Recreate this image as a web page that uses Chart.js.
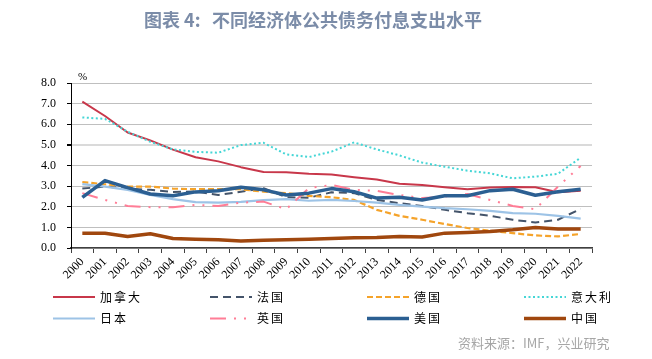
<!DOCTYPE html>
<html>
<head>
<meta charset="utf-8">
<script src="https://cdn.jsdelivr.net/npm/chart.js@4.4.0/dist/chart.umd.min.js"></script>
<style>
body { margin: 0; background: #fff; }
</style>
</head>
<body>
<canvas id="debtChart" width="652" height="359"></canvas>
<script>
const chartLabel = '图表 4:'
const chartTitle = '不同经济体公共债务付息支出水平'
const sourceNote = '资料来源：IMF，兴业研究'
const years = ['2000', '2001', '2002', '2003', '2004', '2005', '2006', '2007', '2008', '2009', '2010', '2011',
    '2012', '2013', '2014', '2015', '2016', '2017', '2018', '2019', '2020', '2021', '2022']
const yTicks = [0, 1, 2, 3, 4, 5, 6, 7, 8]

// % of GDP
const canada = [7.1, 6.4, 5.6, 5.22, 4.77, 4.4, 4.2, 3.92, 3.68, 3.67, 3.6, 3.56, 3.43, 3.32, 3.12, 3.06, 2.95, 2.85, 2.93, 2.96, 2.95, 2.7, 2.78]
const france = [2.88, 2.98, 2.88, 2.82, 2.72, 2.74, 2.57, 2.73, 2.9, 2.46, 2.44, 2.7, 2.66, 2.33, 2.17, 2.04, 1.85, 1.69, 1.56, 1.37, 1.24, 1.37, 1.9]
const germany = [3.2, 3.09, 2.98, 2.98, 2.88, 2.85, 2.85, 2.85, 2.73, 2.66, 2.53, 2.46, 2.33, 1.85, 1.56, 1.37, 1.16, 0.97, 0.84, 0.72, 0.61, 0.56, 0.68]
const italy = [6.33, 6.26, 5.64, 5.15, 4.78, 4.66, 4.62, 4.99, 5.1, 4.54, 4.41, 4.67, 5.12, 4.78, 4.49, 4.14, 3.94, 3.75, 3.62, 3.38, 3.46, 3.6, 4.38]
const japan = [3.1, 2.98, 2.82, 2.57, 2.37, 2.22, 2.2, 2.24, 2.32, 2.37, 2.29, 2.33, 2.28, 2.2, 2.09, 2.01, 1.93, 1.88, 1.8, 1.69, 1.66, 1.56, 1.42]
const uk = [2.66, 2.33, 2.04, 1.98, 1.98, 2.09, 2.04, 2.2, 2.25, 1.88, 2.9, 3.06, 2.82, 2.77, 2.57, 2.42, 2.49, 2.62, 2.33, 2.04, 1.88, 2.98, 3.98]
const usa = [2.45, 3.27, 2.93, 2.62, 2.53, 2.72, 2.78, 2.95, 2.82, 2.57, 2.66, 2.88, 2.73, 2.42, 2.46, 2.33, 2.53, 2.53, 2.78, 2.85, 2.56, 2.73, 2.85]
const china = [0.72, 0.72, 0.56, 0.69, 0.46, 0.42, 0.4, 0.34, 0.37, 0.4, 0.43, 0.46, 0.5, 0.51, 0.56, 0.53, 0.72, 0.75, 0.8, 0.88, 0.99, 0.92, 0.92]

const seriesNames = ['加拿大', '法国', '德国', '意大利', '日本', '英国', '美国', '中国']
const seriesData = [canada, france, germany, italy, japan, uk, usa, china]
const seriesColors = ['#c8374a', '#44546a', '#f5a32a', '#45d6d6', '#9dc3e6', '#ff7d96', '#2b5f92', '#a0470e']
const seriesWidths = [2, 2, 2.2, 2, 2.2, 2, 3.5, 3.5]
const seriesDashes = [[], [8, 5], [6, 3], [2, 2.5], [], [16, 8, 2, 8, 2, 8], [], []]

// title, % mark, legend and source drawn on the canvas
const extras = {
    id: 'extras',
    afterDraw(chart) {
        const ctx = chart.ctx
        ctx.save()
        ctx.textBaseline = 'middle'
        ctx.font = 'bold 18px "Noto Sans CJK SC"'
        ctx.fillStyle = '#7b8ca8'
        ctx.fillText(chartLabel, 144, 20)
        ctx.fillText(chartTitle, 212, 20)

        ctx.font = '11px "Liberation Serif"'
        ctx.fillStyle = '#000'
        ctx.fillText('%', 78, 77)

        chart.data.datasets.forEach((ds, i) => {
            const x = 53 + (i % 4) * 157
            const y = 297 + Math.floor(i / 4) * 21.5
            ctx.strokeStyle = ds.borderColor
            ctx.lineWidth = ds.borderWidth
            ctx.setLineDash(ds.borderDash)
            ctx.lineCap = 'butt'
            ctx.beginPath()
            ctx.moveTo(x, y)
            ctx.lineTo(x + 42, y)
            ctx.stroke()
            ctx.setLineDash([])
            ctx.font = '12px "Noto Sans CJK SC"'
            ctx.letterSpacing = '2px'
            ctx.fillStyle = '#000'
            ctx.fillText(ds.label, x + 47, y)
            ctx.letterSpacing = '0px'
        })

        ctx.font = '13px "Noto Sans CJK SC"'
        ctx.fillStyle = '#a6a6a6'
        ctx.fillText(sourceNote, 458, 343)
        ctx.restore()
    }
}

const datasets = seriesNames.map((name, i) => ({
    label: name,
    data: seriesData[i],
    borderColor: seriesColors[i],
    backgroundColor: seriesColors[i],
    borderWidth: seriesWidths[i],
    borderDash: seriesDashes[i],
    borderJoinStyle: 'round',
    pointRadius: 0,
    tension: 0,
    fill: false,
    order: seriesNames.length - i
}))

new Chart(document.getElementById('debtChart'), {
    type: 'line',
    data: { labels: years, datasets: datasets },
    options: {
        responsive: false,
        animation: false,
        layout: { padding: { top: 83, right: 60, left: 0, bottom: 0 } },
        plugins: {
            legend: { display: false },
            tooltip: { enabled: false }
        },
        scales: {
            x: {
                offset: true,
                afterFit: (scale) => { scale.height = 111 },
                border: { color: '#404040', width: 1.5 },
                grid: { drawOnChartArea: false, offset: true, tickLength: 5, tickColor: '#404040' },
                ticks: {
                    minRotation: 45, maxRotation: 45, padding: 2, autoSkip: false,
                    color: '#000', font: { family: 'Liberation Serif', size: 12 }
                }
            },
            y: {
                min: yTicks[0],
                max: yTicks[yTicks.length - 1],
                afterFit: (scale) => { scale.width = 71 },
                afterBuildTicks: (scale) => { scale.ticks = yTicks.map(v => ({ value: v })) },
                border: { color: '#000', width: 1 },
                grid: {
                    color: (c) => c.tick && c.tick.value === 5 ? '#dadada' : '#bfbfbf',
                    lineWidth: (c) => c.tick && c.tick.value === 5 ? 2 : 1,
                    tickLength: 4,
                    tickColor: '#000'
                },
                ticks: {
                    padding: 11,
                    color: '#000',
                    font: { family: 'Liberation Serif', size: 12 },
                    callback: (v) => Number(v).toFixed(1)
                }
            }
        }
    },
    plugins: [extras]
})
</script>
</body>
</html>
